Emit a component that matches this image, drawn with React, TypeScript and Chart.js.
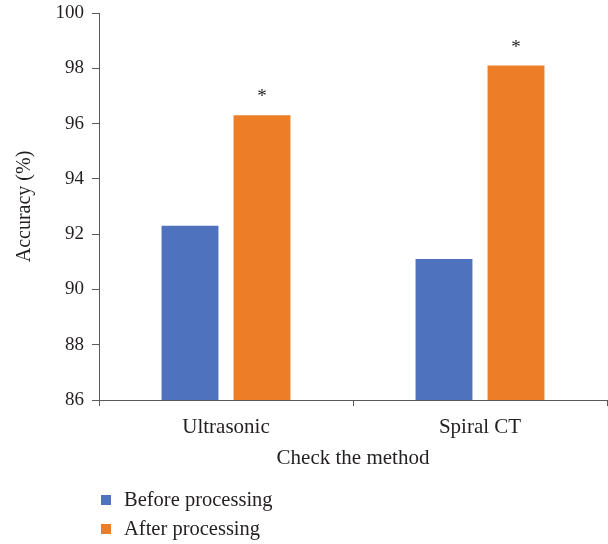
import React, { useEffect, useRef } from "react";
import { Chart, registerables } from "chart.js";

Chart.register(...registerables);

const categories = ["Ultrasonic", "Spiral CT"];
const seriesNames = ["Before processing", "After processing"];
const beforeValues = [92.3, 91.1];
const afterValues = [96.3, 98.1];
const significance = ["*", "*"];
const yTicks = [86, 88, 90, 92, 94, 96, 98, 100];
const xTitle = "Check the method";
const yTitle = "Accuracy (%)";

const FONT = "'Liberation Serif', 'Times New Roman', serif";
const TEXT = "#231f20";
const AXIS = "#595959";
const BLUE = "#4f72be";
const ORANGE = "#ed7d26";

const starPlugin = {
  id: "stars",
  afterDatasetsDraw(chart: any) {
    const meta = chart.getDatasetMeta(1);
    const ctx = chart.ctx;
    ctx.save();
    ctx.font = `19px ${FONT}`;
    ctx.fillStyle = TEXT;
    ctx.textAlign = "center";
    ctx.textBaseline = "alphabetic";
    meta.data.forEach((bar: any, i: number) => {
      ctx.fillText(significance[i], bar.x, bar.y - 13);
    });
    ctx.restore();
  },
};

const legendPlugin = {
  id: "leftLegend",
  afterDraw(chart: any) {
    const ctx = chart.ctx;
    ctx.save();
    ctx.font = `20.5px ${FONT}`;
    ctx.textBaseline = "middle";
    ctx.textAlign = "left";
    const ys = [500, 529];
    chart.data.datasets.forEach((ds: any, i: number) => {
      const y = ys[i];
      ctx.fillStyle = ds.backgroundColor;
      ctx.fillRect(101, y - 5, 10, 10);
      ctx.fillStyle = TEXT;
      ctx.fillText(ds.label, 124, y + 1);
    });
    ctx.restore();
  },
};

export default function App() {
  const ref = useRef<HTMLCanvasElement>(null);
  useEffect(() => {
    document.body.style.margin = "0";
    const chart = new Chart(ref.current!, {
      type: "bar",
      data: {
        labels: categories,
        datasets: [
          {
            label: seriesNames[0],
            data: beforeValues,
            backgroundColor: BLUE,
            categoryPercentage: 0.567,
            barPercentage: 0.79,
          },
          {
            label: seriesNames[1],
            data: afterValues,
            backgroundColor: ORANGE,
            categoryPercentage: 0.567,
            barPercentage: 0.79,
          },
        ],
      },
      options: {
        animation: false,
        responsive: false,
        maintainAspectRatio: false,
        layout: { padding: { top: 13, right: 1, bottom: 64, left: 0 } },
        plugins: {
          legend: { display: false },
          tooltip: { enabled: false },
        },
        scales: {
          x: {
            grid: {
              display: true,
              drawOnChartArea: false,
              drawTicks: true,
              tickLength: 6,
              color: AXIS,
              offset: true,
            },
            border: { display: true, color: AXIS, width: 1 },
            ticks: {
              color: TEXT,
              font: { family: FONT, size: 21 },
              padding: 9,
            },
            title: {
              display: true,
              text: xTitle,
              color: TEXT,
              font: { family: FONT, size: 21 },
              padding: { top: 4, bottom: 9 },
            },
            afterFit(scale: any) {
              scale.height = 80;
              scale.paddingLeft = 0;
              scale.paddingRight = 0;
            },
          },
          y: {
            min: 86,
            max: 100,
            afterBuildTicks(scale: any) {
              scale.ticks = yTicks.map((v) => ({ value: v }));
            },
            grid: {
              display: true,
              drawOnChartArea: false,
              drawTicks: true,
              tickLength: 7,
              color: AXIS,
            },
            border: { display: true, color: AXIS, width: 1 },
            ticks: {
              color: TEXT,
              font: { family: FONT, size: 19 },
              padding: 8,
            },
            title: {
              display: true,
              text: yTitle,
              color: TEXT,
              font: { family: FONT, size: 20 },
              padding: { top: 13, bottom: 0 },
            },
            afterFit(scale: any) {
              scale.width = 99;
              scale.paddingTop = 0;
              scale.paddingBottom = 0;
            },
          },
        },
      },
      plugins: [starPlugin, legendPlugin],
    });
    return () => chart.destroy();
  }, []);
  return (
    <div style={{ width: 608, height: 544 }}>
      <canvas ref={ref} width={608} height={544} style={{ display: "block" }} />
    </div>
  );
}
